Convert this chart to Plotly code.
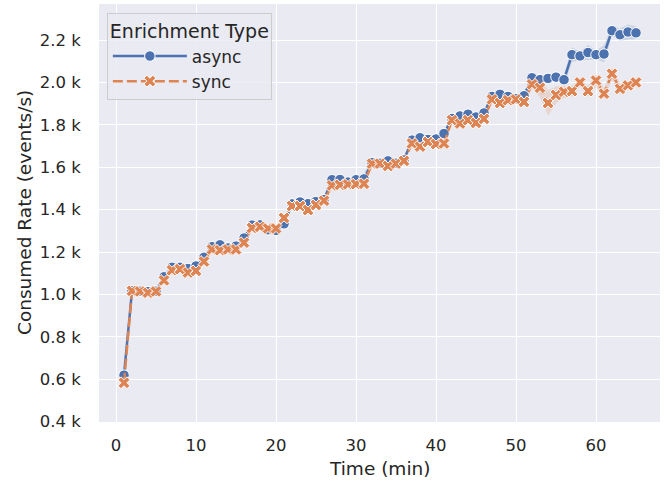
import plotly.graph_objects as go

time_min = list(range(1, 66))

async_rate = [619, 1017, 1015, 1013, 1015, 1083, 1128, 1128, 1122, 1134,
              1175, 1225, 1234, 1219, 1228, 1266, 1327, 1328, 1305, 1302,
              1333, 1427, 1436, 1428, 1438, 1447, 1541, 1542, 1530, 1541,
              1545, 1622, 1619, 1630, 1619, 1634, 1728, 1739, 1731, 1733,
              1759, 1830, 1842, 1850, 1837, 1856, 1934, 1944, 1934, 1923,
              1937, 2022, 2013, 2019, 2025, 2013, 2131, 2125, 2141, 2131,
              2134, 2244, 2225, 2238, 2234]

sync_rate = [583, 1017, 1014, 1008, 1014, 1066, 1114, 1119, 1103, 1111,
             1155, 1212, 1208, 1212, 1212, 1244, 1314, 1319, 1311, 1311,
             1361, 1417, 1417, 1398, 1422, 1442, 1514, 1517, 1519, 1520,
             1522, 1617, 1617, 1606, 1617, 1630, 1712, 1697, 1719, 1709,
             1712, 1822, 1806, 1822, 1809, 1828, 1920, 1903, 1916, 1920,
             1908, 1991, 1975, 1903, 1941, 1956, 1959, 2000, 1959, 2009,
             1947, 2041, 1970, 1986, 2000]

# half-width of the confidence band (events/s)
async_err = [10, 8, 6, 6, 6, 8, 8, 8, 8, 8,
             8, 8, 8, 8, 8, 8, 8, 8, 8, 8,
             8, 8, 8, 8, 8, 10, 12, 10, 10, 10,
             25, 10, 8, 8, 8, 8, 10, 10, 10, 10,
             10, 12, 12, 10, 10, 10, 12, 10, 10, 10,
             15, 15, 12, 12, 12, 25, 35, 20, 35, 20,
             40, 25, 30, 35, 30]

sync_err = [10, 8, 6, 6, 6, 8, 8, 8, 8, 8,
            8, 8, 8, 8, 8, 8, 8, 8, 8, 8,
            8, 8, 8, 8, 8, 8, 8, 8, 8, 8,
            8, 8, 8, 8, 8, 8, 8, 8, 8, 8,
            8, 10, 10, 10, 10, 10, 10, 10, 10, 10,
            10, 20, 45, 60, 40, 30, 25, 20, 25, 30,
            25, 30, 25, 20, 15]

y_ticks = [400, 600, 800, 1000, 1200, 1400, 1600, 1800, 2000, 2200]
y_tick_labels = ["0.4 k", "0.6 k", "0.8 k", "1.0 k", "1.2 k", "1.4 k",
                 "1.6 k", "1.8 k", "2.0 k", "2.2 k"]
x_ticks = [0, 10, 20, 30, 40, 50, 60]

BLUE = "#4C72B0"
ORANGE = "#DD8452"
FONT = "DejaVu Sans"

fig = go.Figure()


def add_band(vals, err, rgba):
    upper = [v + e for v, e in zip(vals, err)]
    lower = [v - e for v, e in zip(vals, err)]
    fig.add_trace(go.Scatter(
        x=time_min + time_min[::-1], y=upper + lower[::-1],
        fill="toself", fillcolor=rgba, line=dict(width=0),
        mode="lines", hoverinfo="skip", showlegend=False))


add_band(async_rate, async_err, "rgba(76,114,176,0.2)")
fig.add_trace(go.Scatter(
    x=time_min, y=async_rate, name="async", mode="lines+markers",
    line=dict(color=BLUE, width=2.5),
    marker=dict(symbol="circle", size=10.5, color=BLUE,
                line=dict(color="white", width=1))))

add_band(sync_rate, sync_err, "rgba(221,132,82,0.2)")
fig.add_trace(go.Scatter(
    x=time_min, y=sync_rate, name="sync", mode="lines+markers",
    line=dict(color=ORANGE, width=2.5, dash="10px,4px"),
    marker=dict(symbol="x", size=10.5, color=ORANGE,
                line=dict(color="white", width=1))))

fig.update_layout(
    width=665, height=483,
    margin=dict(l=99, r=5, t=4, b=61, autoexpand=False),
    paper_bgcolor="white", plot_bgcolor="#EAEAF2",
    font=dict(family=FONT, size=16.5, color="#262626"),
    showlegend=True,
    legend=dict(
        x=0.014, y=0.979, xanchor="left", yanchor="top",
        bgcolor="rgba(234,234,242,0.8)", bordercolor="#CCCCCC", borderwidth=1,
        title=dict(text="Enrichment Type", font=dict(size=19), side="top center"),
        font=dict(size=17, color="#262626"),
        itemwidth=74, tracegroupgap=0,
    ),
    annotations=[
        dict(text="Time (min)", xref="paper", yref="paper", x=0.5, y=0,
             yshift=-46, xanchor="center", yanchor="middle", showarrow=False,
             font=dict(size=18.5, color="#262626")),
        dict(text="Consumed Rate (events/s)", xref="paper", yref="paper",
             x=0, y=0.5, xshift=-75, textangle=-90, xanchor="center",
             yanchor="middle", showarrow=False,
             font=dict(size=18.5, color="#262626")),
    ],
)

fig.update_xaxes(
    range=[-2.125, 68], tickvals=x_ticks, showgrid=True, gridcolor="white",
    gridwidth=1.3, zeroline=False, showline=False, automargin=False,
    ticks="outside", ticklen=8, tickcolor="rgba(0,0,0,0)",
)
fig.update_yaxes(
    range=[398, 2370], tickvals=y_ticks, ticktext=y_tick_labels,
    showgrid=True, gridcolor="white", gridwidth=1.3, zeroline=False,
    showline=False, automargin=False, ticks="outside", ticklen=14,
    tickcolor="rgba(0,0,0,0)",
)

fig.write_html("out.html",
               config={"displayModeBar": False},
               post_script="document.body.style.margin='0';")
